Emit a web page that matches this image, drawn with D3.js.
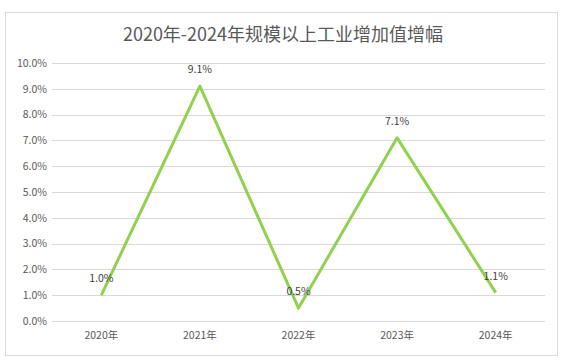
<!DOCTYPE html>
<html><head><meta charset="utf-8">
<script src="https://cdn.jsdelivr.net/npm/d3@7"></script>
<style>body{margin:0;background:#fff;}svg{display:block;}</style>
</head><body>
<script>
const categories = ["2020年","2021年","2022年","2023年","2024年"];
const values = [1.0, 9.1, 0.5, 7.1, 1.1];
const yTicks = [0,1,2,3,4,5,6,7,8,9,10];
const title = "2020年-2024年规模以上工业增加值增幅";

const W = 569, H = 362;
const svg = d3.select("body").append("svg").attr("width", W).attr("height", H);
svg.append("rect").attr("x",5.5).attr("y",12.5).attr("width",552).attr("height",343)
  .attr("fill","#fff").attr("stroke","#d9d9d9").attr("stroke-width",1);

const font = "'Microsoft YaHei','Noto Sans CJK SC','DejaVu Sans',sans-serif";
svg.append("text").attr("x",283).attr("y",41).attr("text-anchor","middle")
  .attr("font-family",font).attr("font-size",18).attr("fill","#595959").text(title);

const x = d3.scaleBand().domain(categories).range([52,545]);
const y = d3.scaleLinear().domain([0,10]).range([321,63]);

const grid = svg.append("g");
grid.selectAll("line").data(yTicks).join("line")
  .attr("x1",52).attr("x2",545)
  .attr("y1",d=>Math.round(y(d))+0.5).attr("y2",d=>Math.round(y(d))+0.5)
  .attr("stroke","#d9d9d9").attr("stroke-width",1);

const yAxis = svg.append("g").attr("transform","translate(47,0)")
  .call(d3.axisLeft(y).tickValues(yTicks).tickFormat(d=>d.toFixed(1)+"%").tickSize(0).tickPadding(0));
yAxis.select(".domain").remove();
yAxis.selectAll("text").attr("font-family",font).attr("font-size",10.5).attr("fill","#595959");

const xAxis = svg.append("g").attr("transform","translate(0,330)")
  .call(d3.axisBottom(x).tickSize(0).tickPadding(0));
xAxis.select(".domain").remove();
xAxis.selectAll("text").attr("font-family",font).attr("font-size",10.5).attr("fill","#595959").attr("dy","0.9em");

const cx = d => x(d) + x.bandwidth()/2;
const line = d3.line().x((d,i)=>cx(categories[i])).y(d=>y(d));
svg.append("path").datum(values).attr("d",line).attr("fill","none")
  .attr("stroke","#92D050").attr("stroke-width",3).attr("stroke-linejoin","round");

svg.selectAll(".lbl").data(values).join("text").attr("class","lbl")
  .attr("x",(d,i)=>cx(categories[i])).attr("y",d=>y(d)-13)
  .attr("text-anchor","middle").attr("font-family",font).attr("font-size",10.5)
  .attr("fill","#404040").text(d=>d.toFixed(1)+"%");
</script>
</body></html>
